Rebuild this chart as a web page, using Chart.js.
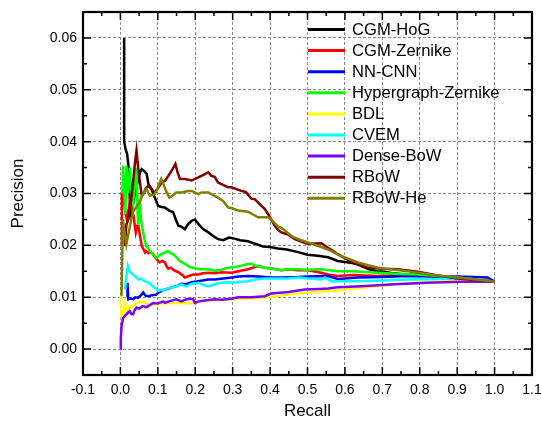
<!DOCTYPE html>
<html>
<head>
<meta charset="utf-8">
<script src="https://cdn.jsdelivr.net/npm/chart.js@4.4.1/dist/chart.umd.min.js"></script>
<style>
html,body{margin:0;padding:0;background:#fff;}
#wrap{width:541px;height:423px;position:relative;}
</style>
</head>
<body>
<div id="wrap"><canvas id="c" width="541" height="423"></canvas></div>
<script>
const xTicks = [-0.1,0.0,0.1,0.2,0.3,0.4,0.5,0.6,0.7,0.8,0.9,1.0,1.1];
const yTicks = [0.00,0.01,0.02,0.03,0.04,0.05,0.06];
const seriesNames = ["CGM-HoG","CGM-Zernike","NN-CNN","Hypergraph-Zernike","BDL","CVEM","Dense-BoW","RBoW","RBoW-He"];
const seriesColors = ["#000000","#ff0000","#0000ff","#00ff00","#ffff00","#00ffff","#8000ff","#800000","#808000"];

const hogX = [0.010,0.010,0.014,0.018,0.022,0.025,0.028,0.034,0.040,0.047,0.052,0.057,0.064,0.070,0.075,0.083,0.090,0.097,0.101,0.110,0.119,0.130,0.141,0.148,0.155,0.163,0.172,0.180,0.190,0.199,0.210,0.220,0.235,0.248,0.261,0.275,0.290,0.305,0.320,0.341,0.360,0.381,0.400,0.421,0.445,0.475,0.500,0.528,0.555,0.581,0.600,0.620,0.635,0.650,0.665,0.685,0.706,0.730,0.760,0.800,0.850,0.900,0.950,1.000];
const hogY = [0.060,0.040,0.0385,0.0376,0.0350,0.0290,0.0262,0.0280,0.0305,0.0325,0.0340,0.0347,0.0343,0.0338,0.0318,0.0309,0.0295,0.0283,0.0276,0.0274,0.0273,0.0267,0.0264,0.0250,0.0238,0.0236,0.0231,0.0240,0.0247,0.0250,0.0240,0.0232,0.0225,0.0218,0.0212,0.0210,0.0215,0.0213,0.0210,0.0208,0.0203,0.0198,0.0197,0.0194,0.0192,0.0187,0.0182,0.0180,0.0177,0.0170,0.0168,0.0166,0.0163,0.0158,0.0154,0.0150,0.0149,0.0146,0.0144,0.0142,0.0139,0.0136,0.0133,0.0130];

const zerX = [0.002,0.004,0.008,0.012,0.017,0.022,0.026,0.030,0.035,0.041,0.045,0.048,0.053,0.057,0.062,0.066,0.069,0.075,0.080,0.087,0.095,0.105,0.112,0.119,0.123,0.128,0.135,0.141,0.149,0.156,0.163,0.167,0.172,0.180,0.194,0.208,0.220,0.235,0.252,0.270,0.297,0.315,0.341,0.368,0.386,0.400,0.430,0.448,0.475,0.501,0.530,0.555,0.581,0.620,0.688,0.750,0.795,0.850,0.901,0.950,0.981,1.000];
const zerY = [0.0200,0.0300,0.0302,0.0270,0.0250,0.0270,0.0289,0.0270,0.0257,0.0225,0.0238,0.0238,0.0215,0.0199,0.0192,0.0186,0.0189,0.0185,0.0188,0.0183,0.0175,0.0167,0.0170,0.0167,0.0160,0.0155,0.0157,0.0153,0.0150,0.0148,0.0144,0.0142,0.0138,0.0140,0.0144,0.0144,0.0146,0.0147,0.0146,0.0148,0.0147,0.0150,0.0154,0.0160,0.0157,0.0156,0.0152,0.0154,0.0152,0.0152,0.0148,0.0144,0.0141,0.0143,0.0141,0.0143,0.0144,0.0141,0.0138,0.0135,0.0132,0.0130];

const cnnX = [0.019,0.019,0.021,0.028,0.034,0.040,0.048,0.055,0.061,0.067,0.075,0.085,0.096,0.101,0.110,0.119,0.130,0.141,0.149,0.163,0.176,0.190,0.208,0.235,0.252,0.297,0.315,0.341,0.370,0.403,0.430,0.475,0.501,0.555,0.581,0.635,0.700,0.768,0.850,0.901,0.981,1.000];
const cnnY = [0.0100,0.0128,0.0096,0.0098,0.0096,0.0100,0.0099,0.0104,0.0109,0.0103,0.0102,0.0104,0.0105,0.0109,0.0112,0.0115,0.0117,0.0120,0.0121,0.0126,0.0125,0.0129,0.0131,0.0134,0.0134,0.0138,0.0140,0.0141,0.0140,0.0138,0.0138,0.0139,0.0140,0.0141,0.0135,0.0138,0.0139,0.0141,0.0140,0.0140,0.0138,0.0130];

const hypX = [0.005,0.007,0.010,0.013,0.016,0.020,0.025,0.030,0.034,0.039,0.043,0.047,0.051,0.055,0.060,0.065,0.069,0.078,0.087,0.096,0.103,0.109,0.118,0.127,0.134,0.141,0.150,0.158,0.167,0.176,0.185,0.194,0.210,0.235,0.252,0.270,0.288,0.300,0.320,0.335,0.350,0.360,0.386,0.410,0.430,0.448,0.475,0.500,0.537,0.581,0.620,0.688,0.750,0.795,0.850,0.901,0.950,1.000];
const hypY = [0.0300,0.0354,0.0310,0.0260,0.0354,0.0300,0.0350,0.0300,0.0280,0.0330,0.0350,0.0240,0.0289,0.0250,0.0228,0.0210,0.0199,0.0190,0.0183,0.0176,0.0180,0.0183,0.0186,0.0189,0.0185,0.0183,0.0177,0.0170,0.0166,0.0163,0.0158,0.0157,0.0154,0.0154,0.0151,0.0153,0.0157,0.0158,0.0160,0.0163,0.0165,0.0161,0.0157,0.0155,0.0152,0.0154,0.0154,0.0153,0.0154,0.0150,0.0150,0.0147,0.0145,0.0144,0.0141,0.0138,0.0134,0.0130];

const bdlX = [0.000,0.001,0.004,0.008,0.012,0.017,0.025,0.030,0.043,0.060,0.075,0.096,0.119,0.141,0.163,0.185,0.208,0.250,0.297,0.315,0.350,0.386,0.448,0.475,0.501,0.555,0.581,0.635,0.700,0.733,0.768,0.821,0.910,1.000];
const bdlY = [0.0102,0.0080,0.0057,0.0070,0.0089,0.0073,0.0083,0.0080,0.0089,0.0092,0.0086,0.0086,0.0089,0.0089,0.0089,0.0088,0.0092,0.0094,0.0096,0.0097,0.0098,0.0099,0.0105,0.0107,0.0109,0.0112,0.0113,0.0118,0.0122,0.0125,0.0127,0.0130,0.0131,0.0130];

const cvemX = [0.012,0.016,0.020,0.024,0.029,0.034,0.040,0.043,0.048,0.055,0.060,0.068,0.075,0.080,0.088,0.096,0.101,0.108,0.114,0.119,0.130,0.141,0.153,0.163,0.176,0.190,0.208,0.220,0.235,0.252,0.270,0.288,0.297,0.320,0.341,0.359,0.386,0.420,0.448,0.475,0.500,0.537,0.546,0.563,0.600,0.635,0.700,0.768,0.850,0.901,0.960,1.000];
const cvemY = [0.0115,0.0140,0.0160,0.0150,0.0147,0.0144,0.0140,0.0138,0.0134,0.0136,0.0133,0.0130,0.0128,0.0126,0.0120,0.0116,0.0112,0.0114,0.0112,0.0115,0.0118,0.0119,0.0122,0.0125,0.0121,0.0126,0.0128,0.0124,0.0121,0.0125,0.0128,0.0129,0.0128,0.0130,0.0131,0.0134,0.0136,0.0136,0.0136,0.0138,0.0136,0.0134,0.0138,0.0131,0.0131,0.0131,0.0132,0.0134,0.0135,0.0136,0.0134,0.0130];

const denseX = [0.000,0.001,0.003,0.007,0.012,0.016,0.020,0.025,0.030,0.034,0.038,0.043,0.050,0.060,0.068,0.075,0.087,0.100,0.114,0.119,0.130,0.149,0.163,0.176,0.194,0.199,0.210,0.230,0.252,0.270,0.297,0.315,0.350,0.386,0.403,0.450,0.475,0.492,0.530,0.555,0.581,0.644,0.733,0.821,0.910,1.000];
const denseY = [0.0000,0.0020,0.0044,0.0060,0.0064,0.0067,0.0070,0.0073,0.0067,0.0067,0.0075,0.0080,0.0078,0.0083,0.0081,0.0083,0.0089,0.0088,0.0092,0.0089,0.0092,0.0096,0.0092,0.0096,0.0097,0.0089,0.0092,0.0094,0.0096,0.0095,0.0097,0.0100,0.0100,0.0102,0.0107,0.0110,0.0113,0.0115,0.0116,0.0117,0.0119,0.0121,0.0125,0.0128,0.0130,0.0130];

const rbowX = [0.012,0.016,0.021,0.025,0.030,0.035,0.039,0.043,0.046,0.050,0.057,0.062,0.068,0.075,0.083,0.092,0.100,0.110,0.120,0.128,0.138,0.147,0.153,0.159,0.173,0.190,0.208,0.222,0.235,0.243,0.252,0.261,0.270,0.288,0.297,0.323,0.335,0.350,0.359,0.377,0.386,0.395,0.412,0.421,0.430,0.448,0.466,0.492,0.501,0.537,0.555,0.563,0.581,0.608,0.635,0.661,0.700,0.741,0.795,0.848,0.901,0.950,1.000];
const rbowY = [0.0199,0.0240,0.0250,0.0270,0.0296,0.0330,0.0360,0.0383,0.0360,0.0334,0.0296,0.0300,0.0310,0.0315,0.0308,0.0302,0.0310,0.0321,0.0325,0.0334,0.0345,0.0357,0.0340,0.0328,0.0328,0.0325,0.0331,0.0336,0.0341,0.0334,0.0332,0.0321,0.0318,0.0312,0.0312,0.0305,0.0303,0.0290,0.0289,0.0276,0.0270,0.0260,0.0238,0.0230,0.0225,0.0221,0.0212,0.0205,0.0203,0.0204,0.0195,0.0192,0.0183,0.0172,0.0164,0.0157,0.0155,0.0154,0.0149,0.0142,0.0136,0.0133,0.0130];

const rbowHeX = [0.003,0.005,0.007,0.010,0.016,0.022,0.029,0.034,0.039,0.045,0.052,0.060,0.070,0.075,0.079,0.085,0.092,0.100,0.109,0.115,0.122,0.131,0.140,0.149,0.163,0.181,0.190,0.208,0.217,0.235,0.243,0.261,0.275,0.288,0.297,0.315,0.341,0.368,0.395,0.403,0.421,0.430,0.457,0.475,0.492,0.528,0.555,0.581,0.635,0.688,0.768,0.848,0.928,1.000];
const rbowHeY = [0.0102,0.0180,0.0250,0.0230,0.0202,0.0225,0.0250,0.0265,0.0270,0.0278,0.0283,0.0300,0.0309,0.0300,0.0296,0.0297,0.0299,0.0312,0.0328,0.0318,0.0305,0.0292,0.0296,0.0302,0.0302,0.0305,0.0305,0.0299,0.0302,0.0302,0.0299,0.0292,0.0285,0.0273,0.0272,0.0267,0.0265,0.0254,0.0254,0.0250,0.0236,0.0234,0.0218,0.0212,0.0208,0.0199,0.0192,0.0182,0.0167,0.0157,0.0150,0.0142,0.0136,0.0130];

const allX = [hogX, zerX, cnnX, hypX, bdlX, cvemX, denseX, rbowX, rbowHeX];
const allY = [hogY, zerY, cnnY, hypY, bdlY, cvemY, denseY, rbowY, rbowHeY];

const datasets = seriesNames.map((name, i) => ({
  label: name,
  data: allX[i].map((x, k) => ({x: x, y: allY[i][k]})),
  borderColor: seriesColors[i],
  backgroundColor: seriesColors[i],
  borderWidth: 2.5,
  pointRadius: 0,
  showLine: true,
  tension: 0,
  fill: false,
  order: seriesNames.length - i
}));

const framePlugin = {
  id: 'frame',
  afterDraw(chart) {
    const ctx = chart.ctx;
    const a = chart.chartArea;
    const xs = chart.scales.x, ys = chart.scales.y;
    ctx.save();
    ctx.strokeStyle = '#000';
    ctx.lineWidth = 1.5;
    ctx.beginPath();
    const majLen = 8, minLen = 4;
    xTicks.forEach((v, i) => {
      const p = xs.getPixelForValue(v);
      ctx.moveTo(p, a.bottom); ctx.lineTo(p, a.bottom - majLen);
      ctx.moveTo(p, a.top); ctx.lineTo(p, a.top + majLen);
      if (i < xTicks.length - 1) {
        const m = xs.getPixelForValue((v + xTicks[i+1]) / 2);
        ctx.moveTo(m, a.bottom); ctx.lineTo(m, a.bottom - minLen);
        ctx.moveTo(m, a.top); ctx.lineTo(m, a.top + minLen);
      }
    });
    const yMinor = [-0.005].concat(yTicks.map(v => v + 0.005));
    yTicks.forEach(v => {
      const p = ys.getPixelForValue(v);
      ctx.moveTo(a.left, p); ctx.lineTo(a.left + majLen, p);
      ctx.moveTo(a.right, p); ctx.lineTo(a.right - majLen, p);
    });
    yMinor.forEach(v => {
      const p = ys.getPixelForValue(v);
      if (p < a.top - 0.5 || p > a.bottom + 0.5) return;
      ctx.moveTo(a.left, p); ctx.lineTo(a.left + minLen, p);
      ctx.moveTo(a.right, p); ctx.lineTo(a.right - minLen, p);
    });
    ctx.stroke();
    ctx.lineWidth = 2.2;
    ctx.strokeRect(a.left, a.top, a.right - a.left, a.bottom - a.top);
    ctx.font = '16.6px "Liberation Sans", Arial, sans-serif';
    ctx.textBaseline = 'middle';
    ctx.textAlign = 'left';
    seriesNames.forEach((name, i) => {
      const y = 29.5 + i * 21.1;
      ctx.strokeStyle = seriesColors[i];
      ctx.lineWidth = 3;
      ctx.beginPath();
      ctx.moveTo(308, y); ctx.lineTo(345, y);
      ctx.stroke();
      ctx.fillStyle = '#000';
      ctx.fillText(name, 352, y + 0.5);
    });
    ctx.restore();
  }
};

new Chart(document.getElementById('c'), {
  type: 'scatter',
  data: { datasets },
  options: {
    responsive: false,
    animation: false,
    layout: { padding: { top: 12, right: 9, left: 0, bottom: 0 } },
    plugins: { legend: { display: false }, tooltip: { enabled: false } },
    scales: {
      x: {
        type: 'linear',
        min: -0.1, max: 1.1,
        afterBuildTicks: s => { s.ticks = xTicks.map(v => ({value: v})); },
        afterFit: s => { s.height = 48; s.paddingLeft = 0; s.paddingRight = 0; },
        ticks: {
          padding: 7,
          color: '#000',
          font: { family: '"Liberation Sans", Arial, sans-serif', size: 14 },
          callback: v => v.toFixed(1),
          maxRotation: 0, autoSkip: false
        },
        grid: { color: '#8c8c8c', lineWidth: 1, drawTicks: false },
        border: { display: false, dash: [3, 2] },
        title: {
          display: true, text: 'Recall', color: '#000',
          font: { family: '"Liberation Sans", Arial, sans-serif', size: 17 },
          padding: { top: 0, bottom: 1 }
        }
      },
      y: {
        type: 'linear',
        min: -0.005, max: 0.065,
        afterBuildTicks: s => { s.ticks = yTicks.map(v => ({value: v})); },
        afterFit: s => { s.width = 83; s.paddingTop = 0; s.paddingBottom = 0; },
        ticks: {
          padding: 6,
          color: '#000',
          font: { family: '"Liberation Sans", Arial, sans-serif', size: 14 },
          callback: v => v.toFixed(2),
          autoSkip: false
        },
        grid: { color: '#8c8c8c', lineWidth: 1, drawTicks: false },
        border: { display: false, dash: [3, 2] },
        title: {
          display: true, text: 'Precision', color: '#000',
          font: { family: '"Liberation Sans", Arial, sans-serif', size: 17 },
          padding: { top: 8, bottom: 0 }
        }
      }
    }
  },
  plugins: [framePlugin]
});
</script>
</body>
</html>
